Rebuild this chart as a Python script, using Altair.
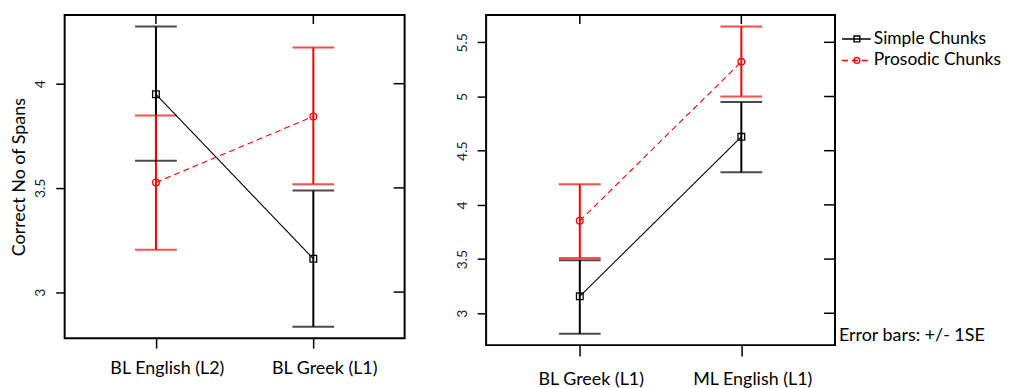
import altair as alt
import pandas as pd

# ---------------- data ----------------
series = ["Simple Chunks", "Prosodic Chunks"]
series_colors = ["#000000", "#ff0000"]
series_shapes = ["square", "circle"]
series_dash = [[1, 0], [6, 4]]

left_groups = ["BL English (L2)", "BL Greek (L1)"]
left_simple_mean = [3.949, 3.160]
left_simple_lo = [3.630, 2.834]
left_simple_hi = [4.274, 3.487]
left_pros_mean = [3.526, 3.843]
left_pros_lo = [3.203, 3.518]
left_pros_hi = [3.847, 4.174]
left_ticks = [3, 3.5, 4]
left_domain = [2.779, 4.329]

right_groups = ["BL Greek (L1)", "ML English (L1)"]
right_simple_mean = [3.156, 4.628]
right_simple_lo = [2.810, 4.300]
right_simple_hi = [3.490, 4.950]
right_pros_mean = [3.853, 5.320]
right_pros_lo = [3.510, 5.000]
right_pros_hi = [4.190, 5.647]
right_ticks = [3, 3.5, 4, 4.5, 5, 5.5]
right_domain = [2.706, 5.751]

y_title = "Correct No of Spans"
note_text = "Error bars: +/- 1SE"

FONT = "Lato"


def make_df(groups, sm, slo, shi, pm, plo, phi):
    rows = []
    for i, g in enumerate(groups):
        rows.append(dict(group=g, series=series[0], mean=sm[i], lo=slo[i], hi=shi[i]))
        rows.append(dict(group=g, series=series[1], mean=pm[i], lo=plo[i], hi=phi[i]))
    return pd.DataFrame(rows)


def panel(df, groups, ticks, domain, W, H, ytitle, xlab_pad, xtick, extra=None):
    xenc = alt.X(
        "group:N", sort=groups, title=None,
        scale=alt.Scale(type="point", padding=0.58),
        axis=alt.Axis(labelAngle=0, tickSize=xtick, labelPadding=xlab_pad, labelOffset=11,
                      labelFontSize=18, labelFont=FONT, labelColor="black"),
    )
    yscale = alt.Scale(domain=domain, nice=False, zero=False)
    yaxis = alt.Axis(values=ticks, format="~g", labelAngle=270, tickSize=9, labelPadding=8,
                     labelFontSize=14, labelFont=FONT, titleFont=FONT,
                     titleFontSize=18, titleFontWeight="normal", titlePadding=5)

    def Y(field):
        return alt.Y(field, scale=yscale, axis=yaxis, title=ytitle)

    color = alt.Color("series:N", scale=alt.Scale(domain=series, range=series_colors), legend=None)
    base = alt.Chart(df)
    lines = base.mark_line(strokeWidth=1.1).encode(
        x=xenc, y=Y("mean:Q"), color=color, detail="series:N",
        strokeDash=alt.StrokeDash("series:N", scale=alt.Scale(domain=series, range=series_dash), legend=None),
    )
    bars = base.mark_rule(strokeWidth=2).encode(x=xenc, y=Y("lo:Q"), y2="hi:Q", color=color)
    cap_lo = base.mark_tick(orient="horizontal", size=42, thickness=2).encode(x=xenc, y=Y("lo:Q"), color=color)
    cap_hi = base.mark_tick(orient="horizontal", size=42, thickness=2).encode(x=xenc, y=Y("hi:Q"), color=color)
    pts = base.mark_point(filled=False, size=45, strokeWidth=1.3, opacity=1).encode(
        x=xenc, y=Y("mean:Q"), color=color,
        shape=alt.Shape("series:N", scale=alt.Scale(domain=series, range=series_shapes), legend=None),
    )
    # inward ticks on right and top sides
    rt = alt.Chart(pd.DataFrame({"v": ticks})).mark_rule(color="black", strokeWidth=1.5).encode(
        y=Y("v:Q"), x=alt.value(W - 11), x2=alt.value(W)
    )
    tt = alt.Chart(pd.DataFrame({"group": groups})).mark_rule(color="black", strokeWidth=1.5).encode(
        x=xenc, y=alt.value(0), y2=alt.value(9)
    )
    layers = [rt, tt, bars, cap_lo, cap_hi, lines, pts]
    if extra:
        layers += extra
    return alt.layer(*layers).properties(width=W, height=H)


left_df = make_df(left_groups, left_simple_mean, left_simple_lo, left_simple_hi,
                  left_pros_mean, left_pros_lo, left_pros_hi)
right_df = make_df(right_groups, right_simple_mean, right_simple_lo, right_simple_hi,
                   right_pros_mean, right_pros_lo, right_pros_hi)

RW, RH = 351, 332
legend_layers = []
for i, s in enumerate(series):
    d = pd.DataFrame({"series": [s]})
    yy = 24 + i * 21.6
    legend_layers.append(
        alt.Chart(d).mark_rule(color=series_colors[i], strokeWidth=1.5, strokeDash=series_dash[i]).encode(
            x=alt.value(RW + 7), x2=alt.value(RW + 36), y=alt.value(yy)
        )
    )
    legend_layers.append(
        alt.Chart(d).mark_point(shape=series_shapes[i], filled=False, color=series_colors[i],
                                size=34, strokeWidth=1.4, opacity=1).encode(
            x=alt.value(RW + 22), y=alt.value(yy)
        )
    )
    legend_layers.append(
        alt.Chart(d).mark_text(align="left", baseline="middle", font=FONT, fontSize=17.5, color="black").encode(
            x=alt.value(RW + 39), y=alt.value(yy), text="series:N"
        )
    )
legend_layers.append(
    alt.Chart(pd.DataFrame({"t": [note_text]})).mark_text(
        align="left", baseline="middle", font=FONT, fontSize=18, color="black"
    ).encode(x=alt.value(RW + 4), y=alt.value(323), text="t:N")
)

left = panel(left_df, left_groups, left_ticks, left_domain, 342, 325, y_title, 12, 10)
right = panel(right_df, right_groups, right_ticks, right_domain, RW, RH, None, 15, 11, legend_layers)

chart = alt.hconcat(left, right, spacing=47).properties(
    padding={"left": 2, "top": 4, "right": 0, "bottom": 0}
).configure_view(
    stroke="black", strokeWidth=2
).configure_axis(
    domain=False, tickColor="black", tickWidth=1.5, labelColor="#1a1a2e", titleColor="black", grid=False
)

chart.save("out.html", embed_options={"renderer": "svg", "actions": False})
